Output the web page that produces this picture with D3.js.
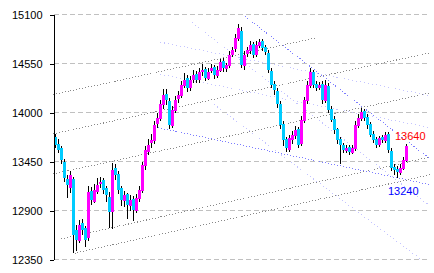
<!DOCTYPE html>
<html>
<head>
<meta charset="utf-8">
<script src="https://cdn.jsdelivr.net/npm/d3@7"></script>
<style>
body{margin:0;background:#fff}
svg{display:block}
</style>
</head>
<body>
<svg></svg>
<script>
const yTicks = [12350, 12900, 13450, 14000, 14550, 15100]

const opens = [13720,13650,13600,13450,13250,13150,13250,12680,12560,12760,
12700,12590,13120,13000,13110,13200,13240,13150,13050,12880,
13380,13310,13150,13010,13080,12950,13030,12900,13030,13120,
13400,13560,13660,13680,13870,13930,14080,14210,14130,13850,
14020,14150,14190,14300,14390,14270,14360,14430,14360,14450,
14490,14380,14470,14510,14410,14470,14580,14490,14520,14640,
14710,14830,14920,14520,14660,14690,14770,14640,14750,14800,
14730,14670,14470,14320,14240,14100,13870,13700,13580,13690,
13740,13810,13650,13910,14130,14300,14450,14320,14270,14320,
14130,14300,14040,13930,13810,13700,13630,13570,13610,13550,
13590,13850,13930,14020,13950,13870,13760,13700,13630,13720,
13680,13760,13570,13390,13370,13320,13370,13460]

const highs = [13760,13700,13620,13480,13300,13340,13280,12740,12790,12800,
12730,13180,13160,13200,13260,13280,13260,13180,13110,13430,
13420,13340,13180,13120,13100,13070,13060,13090,13180,13450,
13620,13700,13760,13900,13990,14140,14260,14260,14160,14070,
14180,14240,14350,14440,14420,14410,14480,14470,14500,14540,
14510,14500,14540,14530,14520,14600,14610,14560,14690,14740,
14880,14990,14960,14690,14740,14800,14790,14800,14820,14820,
14760,14700,14500,14350,14270,14130,13900,13730,13750,13790,
13850,13840,13960,14170,14350,14500,14480,14350,14340,14350,
14360,14330,14070,13960,13830,13720,13660,13640,13630,13640,
13900,13980,14050,14040,13980,13890,13790,13720,13740,13750,
13780,13780,13600,13420,13400,13420,13500,13650]

const lows = [13600,13540,13420,13220,13040,13100,12420,12450,12530,12620,
12490,12560,12960,12980,13090,13150,13080,12990,12700,12690,
13240,13080,12950,12940,12800,12900,12780,12870,12990,13100,
13360,13520,13600,13650,13830,13900,14040,14080,13820,13830,
13990,14110,14160,14270,14230,14240,14330,14330,14330,14410,
14350,14360,14440,14380,14390,14450,14460,14460,14500,14620,
14680,14800,14500,14480,14620,14660,14610,14620,14720,14690,
14640,14440,14280,14200,14050,13820,13620,13560,13560,13650,
13700,13600,13620,13880,14100,14270,14280,14240,14250,14100,
14110,14000,13890,13760,13650,13420,13540,13550,13520,13530,
13570,13830,13910,13900,13820,13720,13660,13600,13610,13660,
13660,13540,13340,13300,13260,13300,13350,13440]

const closes = [13640,13580,13470,13270,13190,13300,12630,12570,12740,12680,
12570,13110,13020,13130,13190,13220,13130,13070,12880,13360,
13300,13130,13020,13070,12960,13020,12910,13040,13130,13410,
13580,13640,13690,13860,13940,14090,14200,14140,13860,14030,
14140,14200,14310,14370,14280,14370,14420,14370,14460,14480,
14390,14460,14500,14420,14480,14570,14500,14530,14650,14700,
14840,14950,14530,14650,14700,14760,14650,14760,14790,14720,
14680,14480,14310,14250,14090,13860,13690,13600,13710,13750,
13800,13640,13920,14140,14310,14460,14310,14280,14310,14140,
14310,14030,13920,13800,13690,13640,13580,13600,13560,13600,
13860,13940,14010,13940,13860,13750,13690,13640,13710,13690,
13750,13580,13380,13360,13330,13380,13470,13620]

// trend lines as [startIndex, startValue, endIndex, endValue]
const grayLines = [
  [6.5, 12420, 125, 13300],
  [2, 12580, 125, 13500],
  [-0.7, 13310, 125, 14220],
  [-0.7, 13760, 125, 14670],
  [-0.7, 14200, 87.3, 14840]
]
const blueLines = [
  [63.3, 15080, 125, 13480],
  [34.3, 13830, 125, 13190]
]
const paleLines = [
  [35, 14790, 125, 14190],
  [35, 14430, 125, 13830],
  [45.7, 15010, 125, 12950],
  [53, 14090, 121.7, 12360]
]

const lastHigh = 13640
const lastLow = 13240

let svgWidth = 434
let svgHeight = 273

const svg = d3.select('svg')
  .attr('width', svgWidth)
  .attr('height', svgHeight)

const xScale = d3.scaleLinear().domain([0, 125]).range([55, 430])
const yScale = d3.scaleLinear().domain([12350, 15100]).range([259.5, 14.5])
const axisX = 53.5

// grid
svg.append('g')
  .selectAll('line')
  .data(yTicks)
  .join('line')
  .attr('x1', axisX)
  .attr('x2', 430)
  .attr('y1', d => yScale(d))
  .attr('y2', d => yScale(d))
  .attr('stroke', '#c0c0c0')
  .attr('stroke-dasharray', '5,3')
  .attr('shape-rendering', 'crispEdges')

const drawLines = (lines, color, dash) => {
  svg.append('g')
    .selectAll('line')
    .data(lines)
    .join('line')
    .attr('x1', d => xScale(d[0]))
    .attr('y1', d => yScale(d[1]))
    .attr('x2', d => xScale(d[2]))
    .attr('y2', d => yScale(d[3]))
    .attr('stroke', color)
    .attr('stroke-dasharray', dash)
    .attr('shape-rendering', 'crispEdges')
}
drawLines(paleLines, '#c4c4ff', '1,3')
drawLines(grayLines, '#888888', '1,2')
drawLines(blueLines, '#7c7cff', '1,2')

// candles: wick under a 3px body
const idx = d3.range(opens.length)
const cx = i => Math.round(xScale(i))

svg.append('g')
  .selectAll('rect')
  .data(idx)
  .join('rect')
  .attr('x', i => cx(i))
  .attr('y', i => Math.round(yScale(highs[i])))
  .attr('width', 1)
  .attr('height', i => Math.max(1, Math.round(yScale(lows[i])) - Math.round(yScale(highs[i]))))
  .attr('fill', '#000')

svg.append('g')
  .selectAll('rect')
  .data(idx)
  .join('rect')
  .attr('x', i => cx(i) - 1)
  .attr('y', i => Math.round(yScale(Math.max(opens[i], closes[i]))))
  .attr('width', 3)
  .attr('height', i => Math.max(1, Math.round(yScale(Math.min(opens[i], closes[i]))) - Math.round(yScale(Math.max(opens[i], closes[i])))))
  .attr('fill', i => closes[i] >= opens[i] ? '#ff00ff' : '#00ccff')

// axis
let yAxis = d3.axisLeft(yScale)
  .tickValues(yTicks)
  .tickSize(4)
  .tickSizeOuter(0)
  .tickPadding(7)
  .tickFormat(d3.format('d'))
let ax = svg.append('g')
  .attr('transform', 'translate(' + axisX + ',0)')
  .call(yAxis)
ax.select('.domain').attr('stroke', '#000').attr('shape-rendering', 'crispEdges')
ax.selectAll('line').attr('stroke', '#000').attr('shape-rendering', 'crispEdges')
ax.selectAll('text')
  .attr('fill', '#000')
  .style('font-family', '"Liberation Sans", Arial, sans-serif')
  .style('font-size', '11px')

// price labels
const lastX = xScale(opens.length - 1)
svg.append('text')
  .attr('x', lastX - 11)
  .attr('y', yScale(lastHigh) - 5)
  .attr('fill', '#ff0000')
  .style('font-family', '"Liberation Sans", Arial, sans-serif')
  .style('font-size', '11px')
  .text(lastHigh)
svg.append('text')
  .attr('x', lastX - 18)
  .attr('y', yScale(lastLow) + 15)
  .attr('fill', '#0000ff')
  .style('font-family', '"Liberation Sans", Arial, sans-serif')
  .style('font-size', '11px')
  .text(lastLow)
</script>
</body>
</html>
